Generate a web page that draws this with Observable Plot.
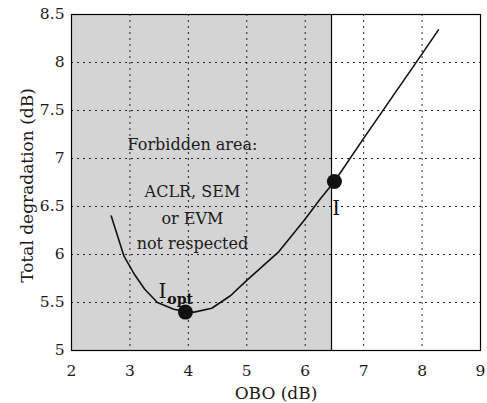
<!DOCTYPE html>
<html>
<head>
<meta charset="utf-8">
<script src="https://cdn.jsdelivr.net/npm/d3@7"></script>
<script src="https://cdn.jsdelivr.net/npm/@observablehq/plot@0.6"></script>
<style>
  html, body { margin: 0; padding: 0; background: #fff; }
  #chart svg { display: block; }
</style>
</head>
<body>
<div id="chart"></div>
<script>
// Data
const obo = [2.68, 2.9, 3.07, 3.25, 3.47, 3.75, 4.0, 4.1, 4.4, 4.72, 5.0, 5.55, 6.0, 6.26, 6.5, 7.0, 7.5, 8.0, 8.28];
const degradation = [6.40, 5.98, 5.80, 5.64, 5.50, 5.43, 5.40, 5.40, 5.44, 5.57, 5.73, 6.03, 6.37, 6.58, 6.76, 7.21, 7.65, 8.09, 8.34];
const forbiddenLimit = 6.45;
const pointX = [3.95, 6.5];
const pointY = [5.40, 6.76];
const xTicks = [2, 3, 4, 5, 6, 7, 8, 9];
const yTicks = [5, 5.5, 6, 6.5, 7, 7.5, 8, 8.5];
const noteLines = ["Forbidden area:", "ACLR, SEM", "or EVM", "not respected"];
const noteY = [7.14, 6.65, 6.375, 6.11];
const noteX = 4.07;
const xLabel = "OBO (dB)";
const yLabel = "Total degradation (dB)";

const curve = obo.map((x, i) => ({x, y: degradation[i]}));
const points = pointX.map((x, i) => ({x, y: pointY[i]}));
const notes = noteLines.map((t, i) => ({t, x: noteX, y: noteY[i]}));

const font = "DejaVu Serif";
const plot = Plot.plot({
  width: 487,
  height: 403,
  marginLeft: 71,
  marginRight: 7,
  marginTop: 14,
  marginBottom: 53,
  style: {fontFamily: font, fontSize: "15px", color: "#1a1a1a", background: "#fff"},
  x: {domain: [2, 9]},
  y: {domain: [5, 8.5]},
  marks: [
    Plot.rect([{x1: 2, x2: forbiddenLimit, y1: 5, y2: 8.5}], {x1: "x1", x2: "x2", y1: "y1", y2: "y2", fill: "#d4d4d4"}),
    Plot.gridX(xTicks.slice(1, -1), {stroke: "#000", strokeOpacity: 0.85, strokeDasharray: "2,4"}),
    Plot.gridY(yTicks.slice(1, -1), {stroke: "#000", strokeOpacity: 0.85, strokeDasharray: "2,4"}),
    Plot.axisX(xTicks, {tickFormat: d => String(d), tickSize: 0, tickPadding: 14, label: null, fontSize: 15.5}),
    Plot.axisY(yTicks, {tickFormat: d => String(d), tickSize: 0, tickPadding: 7, label: null, fontSize: 15.5}),
    Plot.text([xLabel], {frameAnchor: "bottom", text: d => d, textAnchor: "middle", lineAnchor: "middle", dy: 43, fontSize: 17, fill: "#1a1a1a"}),
    Plot.text([yLabel], {frameAnchor: "left", text: d => d, textAnchor: "middle", lineAnchor: "middle", rotate: -90, dx: -44, dy: 3, fontSize: 17, fill: "#1a1a1a"}),
    Plot.ruleX([forbiddenLimit], {y1: 5, y2: 8.5, stroke: "#000", strokeWidth: 1.2}),
    Plot.line(curve, {x: "x", y: "y", stroke: "#111", strokeWidth: 1.6}),
    Plot.dot(points, {x: "x", y: "y", r: 7.5, fill: "#111", stroke: "none"}),
    Plot.text(notes, {x: "x", y: "y", text: "t", fontSize: 16, fill: "#1a1a1a"}),
    Plot.text([{x: 3.49, y: 5.61}], {x: "x", y: "y", text: () => "I", fontSize: 20, textAnchor: "start", lineAnchor: "middle", fill: "#111"}),
    Plot.text([{x: 3.64, y: 5.53}], {x: "x", y: "y", text: () => "opt", fontSize: 14, fontWeight: "bold", textAnchor: "start", lineAnchor: "middle", fill: "#111"}),
    Plot.text([{x: 6.53, y: 6.48}], {x: "x", y: "y", text: () => "I", fontSize: 20, lineAnchor: "middle", fill: "#111"}),
    Plot.frame({stroke: "#000", strokeWidth: 1.2})
  ]
});
document.getElementById("chart").appendChild(plot);
</script>
</body>
</html>
